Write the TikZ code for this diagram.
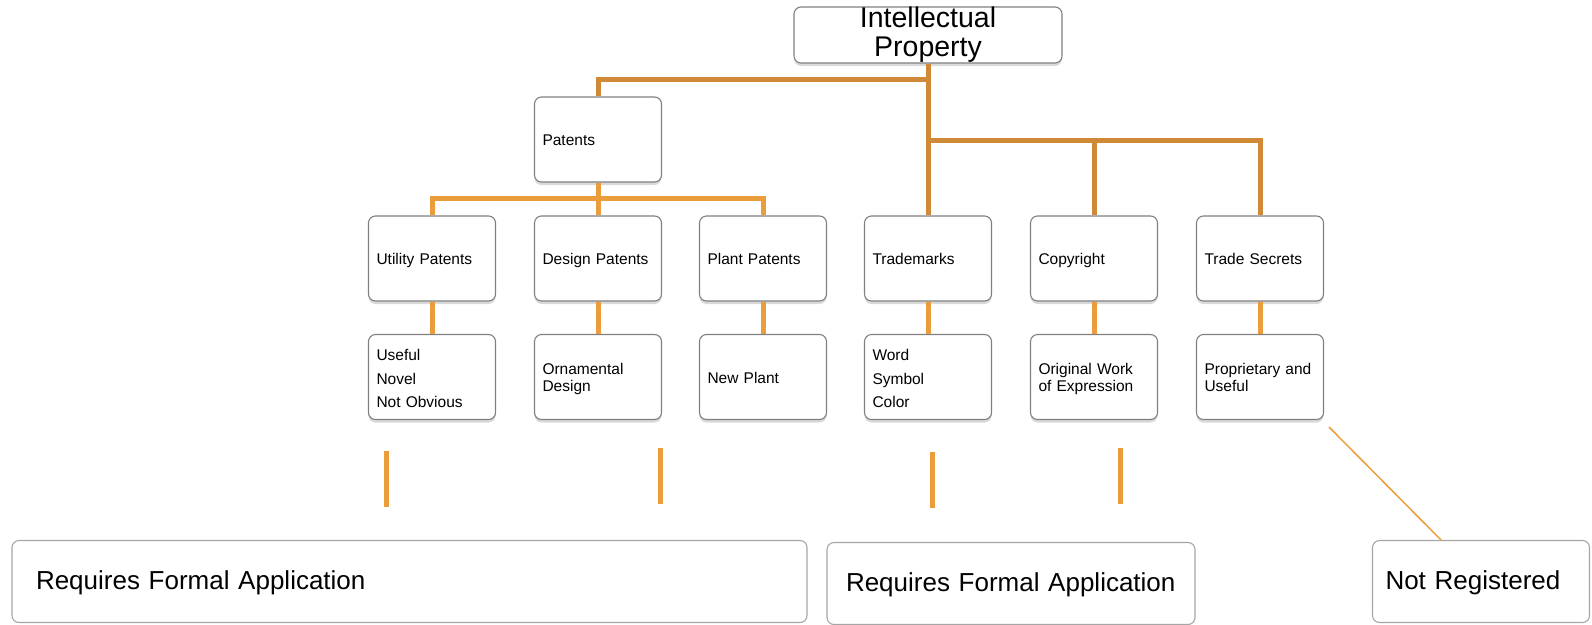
\documentclass[tikz,border=0pt]{standalone}
\usepackage{fontspec}
\setmainfont{Liberation Sans}
\usepackage{tikz}
\usetikzlibrary{shadows}
\definecolor{iporange}{RGB}{208, 138, 55}
\definecolor{iplight}{RGB}{234, 157, 58}
\definecolor{ipgray}{RGB}{128, 128, 128}

\begin{document}
\begin{tikzpicture}[x=1pt, y=-1pt,
    cell/.style={draw=ipgray, line width=1.1pt, rounded corners=7pt, fill=white,
        drop shadow={shadow xshift=0pt, shadow yshift=-3pt, opacity=0.3},
        inner xsep=8pt, inner ysep=0pt},
    box/.style={cell, align=left, text width=111pt,
        minimum height=85pt, font=\fontsize{15.5}{17.5}\selectfont,
        execute at begin node={\rule{0pt}{\dimexpr0.7\baselineskip+5pt}},
        execute at end node=\strut},
    listbox/.style={box, font=\fontsize{15.5}{23.5}\selectfont},
    bigbox/.style={draw=ipgray!70, line width=1.1pt, rounded corners=7pt, fill=white,
        align=left, inner ysep=0pt, minimum height=82pt, font=\fontsize{26}{30}\selectfont,
        execute at begin node={\rule{0pt}{\dimexpr0.7\baselineskip+4pt}},
        execute at end node=\strut},
    trunk/.style={draw=iporange, line width=5pt},
    branch/.style={draw=iplight, line width=5pt}]
\useasboundingbox (0,0) rectangle (1592,624);

% Top of the tree
\node[cell, align=center, text width=252pt, minimum height=56pt,
    font=\fontsize{28.5}{29}\selectfont] (ip) at (928,35) {Intellectual\\Property};
\node[box] (patents) at (598,139.5) {Patents};

% Second row
\node[box] (utility) at (432,258.5) {Utility Patents};
\node[box] (design) at (598,258.5) {Design Patents};
\node[box] (plant) at (763,258.5) {Plant Patents};
\node[box] (trademarks) at (928,258.5) {Trademarks};
\node[box] (copyright) at (1094,258.5) {Copyright};
\node[box] (secrets) at (1260,258.5) {Trade Secrets};

% Third row
\node[listbox] (useful) at (432,377) {Useful\\Novel\\Not Obvious};
\node[box] (ornamental) at (598,377) {Ornamental\\Design};
\node[box] (newplant) at (763,377) {New Plant};
\node[listbox] (word) at (928,377) {Word\\Symbol\\Color};
\node[box] (original) at (1094,377) {Original Work\\of Expression};
\node[box] (proprietary) at (1260,377) {Proprietary and\\Useful};

% Bottom boxes
\node[bigbox, inner xsep=24pt, text width=747pt] (formal) at (409.5,581.5) {Requires Formal Application};
\node[bigbox, inner xsep=19pt, text width=330pt] (formaltwo) at (1011,583.5) {Requires Formal Application};
\node[bigbox, inner xsep=13pt, text width=191pt] (notreg) at (1481,581.5) {Not Registered};

% Connectors
\draw[trunk] (ip.south) -- ++(0,16) -| (patents.north);
\draw[trunk] (ip.south) -- (trademarks.north);
\coordinate (ipbus) at (ip.south |- 0,140);
\draw[trunk] (ipbus) -| (copyright.north);
\draw[trunk] (ipbus) -| (secrets.north);
\draw[branch] (patents.south) -- ++(0,16) coordinate (pbus);
\draw[branch] (pbus) -| (utility.north);
\draw[branch] (pbus) -| (design.north);
\draw[branch] (pbus) -| (plant.north);
\foreach \a/\b in {utility/useful, design/ornamental, plant/newplant,
    trademarks/word, copyright/original, secrets/proprietary}
    \draw[branch] (\a.south) -- (\b.north);

% Loose bars
\foreach \x/\y in {386/451, 660/448, 932/452, 1120/448}
    \draw[branch] (\x,\y) -- ++(0,56);
\draw[iplight, line width=1.5pt] ([shift={(5,7)}]proprietary.south east) -- ([xshift=-40pt]notreg.north);
\end{tikzpicture}
\end{document}
